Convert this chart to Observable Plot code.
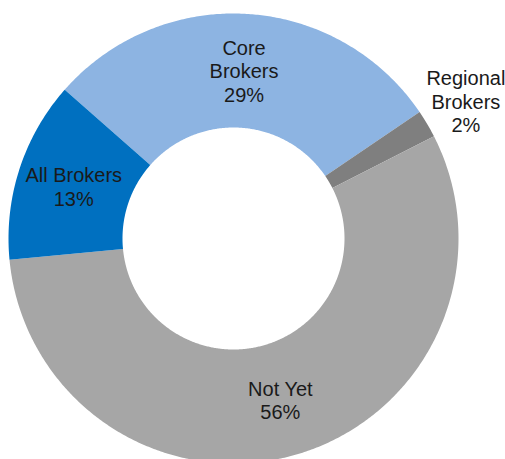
<!DOCTYPE html>
<html>
<head>
<meta charset="utf-8">
<script src="https://cdn.jsdelivr.net/npm/d3@7"></script>
<script src="https://cdn.jsdelivr.net/npm/@observablehq/plot@0.6"></script>
<style>
  html, body { margin: 0; padding: 0; background: #fff; }
  #chart svg { display: block; }
</style>
</head>
<body>
<div id="chart"></div>
<script>
// ---- data ----
const categories = ["Core Brokers", "Regional Brokers", "Not Yet", "All Brokers"];
const labelLines = ["Core\nBrokers", "Regional\nBrokers", "Not Yet", "All Brokers"];
const values = [29, 2, 56, 13];
const colors = ["#8DB4E2", "#7F7F7F", "#A6A6A6", "#0070C0"];

// ---- layout ----
const W = 505, H = 459;
const cx = 233, cy = 238, Rpx = 225;     // center and outer radius in pixels
const inner = 111 / 225;                 // inner radius relative to outer
const startDeg = -48.6;                  // angle where the first slice begins (clockwise from top)

const a0 = startDeg * Math.PI / 180;
const arcs = d3.pie().sort(null).startAngle(a0).endAngle(a0 + 2 * Math.PI)(values);

// polygon points for each ring slice (unit coordinates, y up)
const pts = [];
arcs.forEach((a, i) => {
  const n = Math.max(8, Math.ceil((a.endAngle - a.startAngle) * 120));
  for (let k = 0; k <= n; k++) {
    const t = a.startAngle + (a.endAngle - a.startAngle) * k / n;
    pts.push({cat: categories[i], x: Math.sin(t), y: Math.cos(t)});
  }
  for (let k = n; k >= 0; k--) {
    const t = a.startAngle + (a.endAngle - a.startAngle) * k / n;
    pts.push({cat: categories[i], x: inner * Math.sin(t), y: inner * Math.cos(t)});
  }
});

// label positions: centroid of ring, small slices outside
const labels = arcs.map((a, i) => {
  const m = (a.startAngle + a.endAngle) / 2;
  const r = values[i] < 5 ? 1.2 : (1 + inner) / 2;
  return {text: labelLines[i] + "\n" + values[i] + "%", x: r * Math.sin(m), y: r * Math.cos(m)};
});

const chart = Plot.plot({
  width: W,
  height: H,
  margin: 0,
  x: {domain: [-cx / Rpx, (W - cx) / Rpx], axis: null},
  y: {domain: [-(H - cy) / Rpx, cy / Rpx], axis: null},
  color: {domain: categories, range: colors},
  marks: [
    Plot.line(pts, {x: "x", y: "y", z: "cat", fill: "cat", stroke: "none", curve: "linear"}),
    Plot.text(labels, {
      x: "x", y: "y", text: "text",
      fontSize: 20, lineHeight: 1.17,
      fontFamily: "'Liberation Sans', Arial, sans-serif",
      fill: "#1a1a1a"
    })
  ]
});
document.getElementById("chart").appendChild(chart);
</script>
</body>
</html>
